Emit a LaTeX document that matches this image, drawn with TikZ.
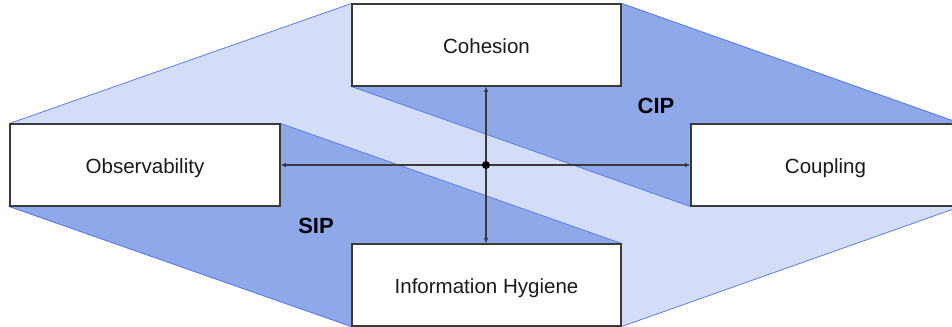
\documentclass[tikz,border=0pt]{standalone}
\usepackage{fontspec}
\setmainfont{Liberation Sans}
\usetikzlibrary{arrows.meta,backgrounds}
\definecolor{lightband}{HTML}{D3DDF7}
\definecolor{darkband}{HTML}{8FA8EA}
\definecolor{edgeblue}{HTML}{5B7FE3}
\definecolor{ink}{HTML}{1A1A1A}
\definecolor{axis}{HTML}{3A3A3A}
\tikzset{
  box/.style={draw=axis, line width=0.8pt, fill=white, minimum height=61.5pt, inner sep=0pt,
    text height=12.9pt, text depth=0pt, font=\fontsize{15.4pt}{18pt}\selectfont, text=ink},
  bandedge/.style={draw=edgeblue, line width=0.6pt},
  axisline/.style={draw=axis, line width=0.8pt, -{Latex[length=4pt,width=3.5pt]}},
  tag/.style={font=\fontsize{16.5pt}{19pt}\selectfont\bfseries, text=black},
}
\begin{document}
\begin{tikzpicture}[x=0.75pt,y=-0.75pt]
\useasboundingbox (0,0) rectangle (952,326);
% boxes
\node[box, minimum width=201.75pt] (coh) at (486.5,45) {Cohesion};
\node[box, minimum width=202.5pt] (obs) at (145,165) {Observability};
\node[box, minimum width=201.75pt] (cpl) at (825.5,165) {Coupling};
\node[box, minimum width=201.75pt] (ih) at (486.5,285) {Information Hygiene};
% labels
\node[tag] (cip) at (656,106) {CIP};
\node[tag] (sip) at (316,226) {SIP};
\begin{scope}[on background layer]
  % light hexagon
  \filldraw[fill=lightband, bandedge]
    (obs.north west) -- (coh.north west) -- (coh.north east) -- (cpl.north east)
    -- (cpl.south east) -- (ih.south east) -- (ih.south west) -- (obs.south west) -- cycle;
  % dark bands
  \filldraw[fill=darkband, bandedge]
    (coh.south west) -- (coh.north east) -- (cpl.north east) -- (cpl.south west) -- cycle;
  \filldraw[fill=darkband, bandedge]
    (obs.south west) -- (obs.north east) -- (ih.north east) -- (ih.south west) -- cycle;
  % centre and axes
  \coordinate (ctr) at (486,165);
  \draw[axisline] (ctr) -- (coh.south -| ctr);
  \draw[axisline] (ctr) -- (ih.north -| ctr);
  \draw[axisline] (ctr) -- (obs.east |- ctr);
  \draw[axisline] (ctr) -- (cpl.west |- ctr);
  \fill[black] (ctr) circle (3pt);
\end{scope}
\end{tikzpicture}
\end{document}
